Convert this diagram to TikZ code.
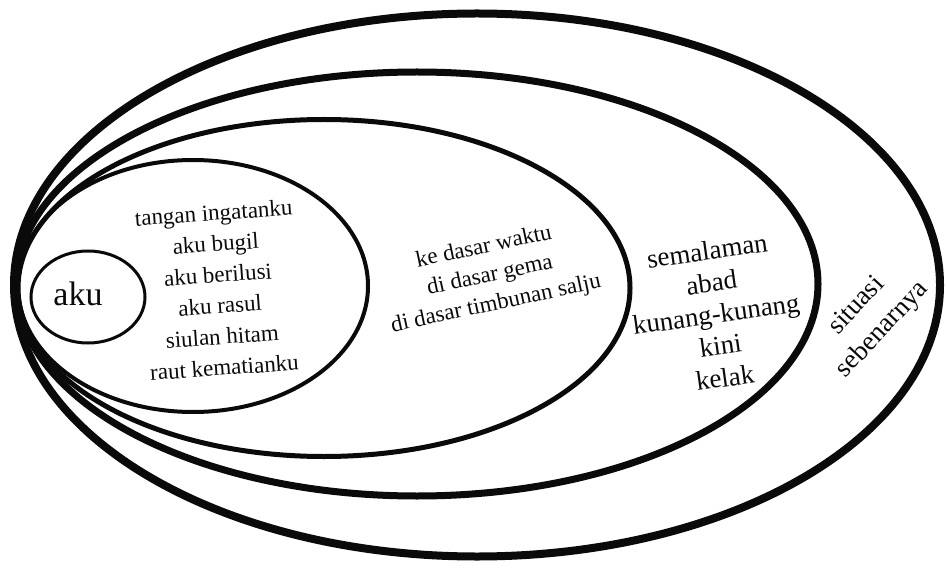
\documentclass[tikz,border=0pt]{standalone}
\usepackage{fontspec}
\setmainfont{Liberation Serif}
\newfontfamily\versefont{Liberation Serif}
\usepackage{tikz}
\usetikzlibrary{shapes.geometric, positioning}
\definecolor{myink}{RGB}{10,10,10}
\tikzset{
  ring/.style={ellipse, draw=myink, inner sep=0pt, outer sep=0pt},
  verse/.style={align=center, text=myink, inner sep=0pt,
    font=\versefont\fontsize{23}{31}\selectfont},
  bigverse/.style={verse, font=\versefont\fontsize{27}{32}\selectfont},
  selfnode/.style={align=center, text=myink, inner sep=0pt,
    font=\versefont\fontsize{34}{36}\selectfont}
}
\begin{document}
\begin{tikzpicture}[x=1pt, y=-1pt]
  \useasboundingbox (0,0) rectangle (947,569);
  % nested rings, all touching on the left
  \node[ring, line width=8pt, minimum width=926pt, minimum height=543pt] (situasi) at (477,285) {};
  \node[ring, line width=7pt, minimum width=802pt, minimum height=424pt] (waktu) at (417,284) {};
  \node[ring, line width=5pt, minimum width=612pt, minimum height=337pt] (dasar) at (324,288) {};
  \node[ring, line width=4pt, minimum width=350pt, minimum height=252pt] (ingatan) at (193,286) {};
  \node[ring, line width=3pt, minimum width=114pt, minimum height=92pt] (aku) at (88,297) {};

  % texts
  \node[selfnode] (akutext) at (78,294) {aku};
  \node[verse, rotate=4] (ingatantext) at (219,290)
    {tangan ingatanku\\aku bugil\\aku berilusi\\aku rasul\\siulan hitam\\raut kematianku};
  \node[verse, rotate=12, font=\versefont\fontsize{23}{29}\selectfont] (dasartext) at (490,276)
    {ke dasar waktu\\di dasar gema\\di dasar timbunan salju};
  \node[bigverse, rotate=8] (waktutext) at (716,314)
    {semalaman\\abad\\kunang-kunang\\kini\\kelak};
  \node[bigverse, rotate=47] (situasitext) at (870,318)
    {situasi\\[3pt]sebenarnya};
\end{tikzpicture}
\end{document}
